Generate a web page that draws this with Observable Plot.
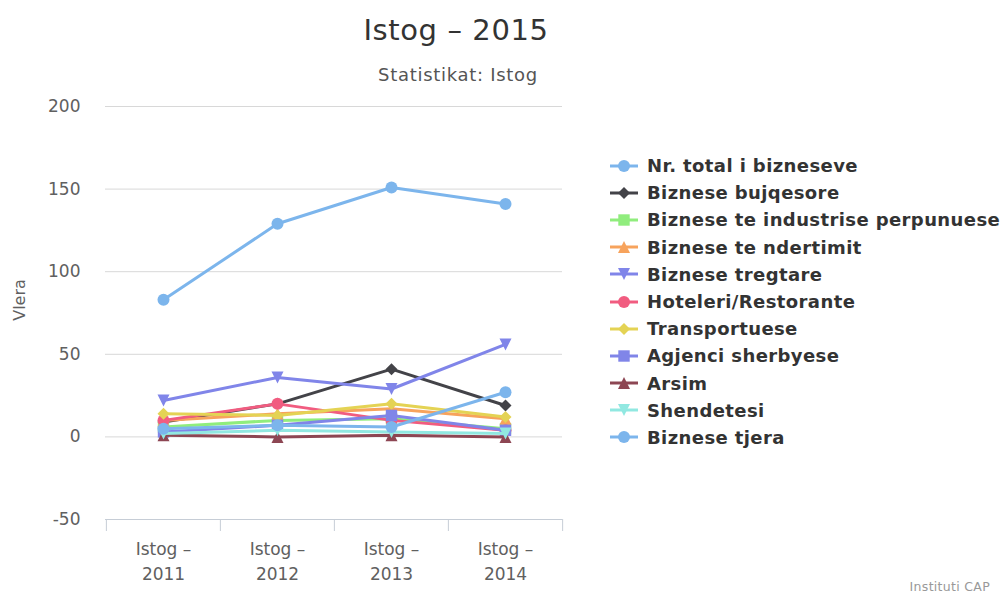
<!DOCTYPE html>
<html><head><meta charset="utf-8">
<script src="https://cdn.jsdelivr.net/npm/d3@7"></script>
<script src="https://cdn.jsdelivr.net/npm/@observablehq/plot@0.6"></script>
<style>
body{margin:0;background:#fff;}
#wrap{position:relative;width:1002px;height:595px;overflow:hidden;font-family:"DejaVu Sans",sans-serif;}
.t{position:absolute;white-space:nowrap;line-height:1;}
#title{left:0;width:912px;text-align:center;top:16px;font-size:29px;letter-spacing:0.6px;color:#333;}
#subtitle{left:0;width:916px;text-align:center;top:66px;font-size:18px;letter-spacing:0.7px;color:#555;}
#ylabel{left:20px;top:300px;font-size:16px;color:#606060;transform:translate(-50%,-50%) rotate(-90deg);}
#credits{right:12px;top:581px;font-size:12.5px;letter-spacing:0.3px;color:#999;}
#legend{position:absolute;left:603px;top:152px;}
.li{display:flex;align-items:center;height:27.2px;font-weight:bold;font-size:18px;letter-spacing:0.4px;color:#333;white-space:nowrap;}
.li svg{margin-right:8px;}
</style></head><body><div id="wrap"></div>
<script>
// ---- data ----
const categories = ["Istog – 2011", "Istog – 2012", "Istog – 2013", "Istog – 2014"];
const seriesNames = ["Nr. total i bizneseve", "Biznese bujqesore", "Biznese te industrise perpunuese", "Biznese te ndertimit", "Biznese tregtare", "Hoteleri/Restorante", "Transportuese", "Agjenci sherbyese", "Arsim", "Shendetesi", "Biznese tjera"];
const totalBiz      = [83, 129, 151, 141];
const bujqesore     = [9, 20, 41, 19];
const industri      = [6, 10, 11, 5];
const ndertimit     = [10, 14, 17, 11];
const tregtare      = [22, 36, 29, 56];
const hoteleri      = [10, 20, 10, 4];
const transport     = [14, 13, 20, 12];
const agjenci       = [3, 7, 13, 4];
const arsim         = [1, 0, 1, 0];
const shendetesi    = [2, 4, 3, 2];
const tjera         = [5, 7, 6, 27];
const seriesValues = [totalBiz, bujqesore, industri, ndertimit, tregtare, hoteleri, transport, agjenci, arsim, shendetesi, tjera];
const yTicks = [-50, 0, 50, 100, 150, 200];
const colors = ["#7cb5ec", "#434348", "#90ed7d", "#f7a35c", "#8085e9", "#f15c80", "#e4d354", "#8085e8", "#8d4653", "#91e8e1", "#7cb5ec"];

// Highcharts-like marker symbols
const R = 6;
const sym = {
  circle: {draw(c, s){const r=Math.sqrt(s/Math.PI); c.moveTo(r,0); c.arc(0,0,r,0,2*Math.PI);}},
  diamond: {draw(c, s){const r=Math.sqrt(s/Math.PI); c.moveTo(0,-r); c.lineTo(r,0); c.lineTo(0,r); c.lineTo(-r,0); c.closePath();}},
  square: {draw(c, s){const r=Math.sqrt(s/Math.PI)*0.95; c.rect(-r,-r,2*r,2*r);}},
  triangle: {draw(c, s){const r=Math.sqrt(s/Math.PI); c.moveTo(0,-r); c.lineTo(r,r); c.lineTo(-r,r); c.closePath();}},
  triangleDown: {draw(c, s){const r=Math.sqrt(s/Math.PI); c.moveTo(-r,-r); c.lineTo(r,-r); c.lineTo(0,r); c.closePath();}}
};
const symOrder = [sym.circle, sym.diamond, sym.square, sym.triangle, sym.triangleDown];

const rows = [];
seriesNames.forEach((name, si) => seriesValues[si].forEach((v, ci) => rows.push({series: name, idx: si, cat: categories[ci], value: v})));

const W = 1002, H = 595, mL = 105, mR = 440, mT = 106, mB = 76;
const step = (W - mL - mR) / categories.length;
const yMin = yTicks[0];

const marks = [
  Plot.ruleY(yTicks.filter(v => v > yMin), {stroke: "#d8d8d8", strokeWidth: 1}),
  Plot.ruleY([yMin], {stroke: "#c6cdd6", strokeWidth: 1}),
  Plot.ruleX(categories, {x: d => d, y1: yMin, y2: yMin, dx: -step/2, insetBottom: -12, stroke: "#c6cdd6"}),
  Plot.ruleX(categories.slice(-1), {x: d => d, y1: yMin, y2: yMin, dx: step/2, insetBottom: -12, stroke: "#c6cdd6"}),
  Plot.axisY(yTicks, {tickSize: 0, tickPadding: 25, fontSize: 17, fill: "#606060", label: null, tickFormat: d => String(d)}),
  Plot.axisX(categories, {tickSize: 0, tickPadding: 18, fontSize: 17, fill: "#606060", lineHeight: 1.45, label: null,
    tickFormat: d => d.replace(" – ", " –\n")})
];
seriesNames.forEach((name, si) => {
  const data = rows.filter(r => r.idx === si);
  marks.push(Plot.line(data, {x: "cat", y: "value", stroke: colors[si], strokeWidth: 3}));
  marks.push(Plot.dot(data, {x: "cat", y: "value", fill: colors[si], r: R, symbol: symOrder[si % 5]}));
});

const chart = Plot.plot({
  width: W, height: H, marginLeft: mL, marginRight: mR, marginTop: mT, marginBottom: mB,
  style: {fontFamily: "DejaVu Sans, sans-serif", background: "transparent", overflow: "visible"},
  x: {type: "point", domain: categories, padding: 0.5, axis: null},
  y: {domain: [yMin, yTicks[yTicks.length-1]], axis: null},
  marks
});

const wrap = document.getElementById("wrap");
wrap.appendChild(chart);
chart.style.position = "absolute"; chart.style.left = "0"; chart.style.top = "0";

function addText(id, txt){const d=document.createElement("div"); d.id=id; d.className="t"; d.textContent=txt; wrap.appendChild(d);}
addText("title", "Istog – 2015");
addText("subtitle", "Statistikat: Istog");
addText("ylabel", "Vlera");
addText("credits", "Instituti CAP");

const legend = document.createElement("div"); legend.id = "legend";
seriesNames.forEach((name, si) => {
  const item = document.createElement("div"); item.className = "li";
  const svg = d3.create("svg").attr("width", 36).attr("height", 16);
  svg.append("line").attr("x1", 7).attr("x2", 35).attr("y1", 8).attr("y2", 8).attr("stroke", colors[si]).attr("stroke-width", 3);
  svg.append("path").attr("transform", "translate(21,8)").attr("fill", colors[si])
     .attr("d", d3.symbol(symOrder[si % 5], Math.PI * 36)());
  item.appendChild(svg.node());
  const s = document.createElement("span"); s.textContent = name; item.appendChild(s);
  legend.appendChild(item);
});
wrap.appendChild(legend);
</script></body></html>
